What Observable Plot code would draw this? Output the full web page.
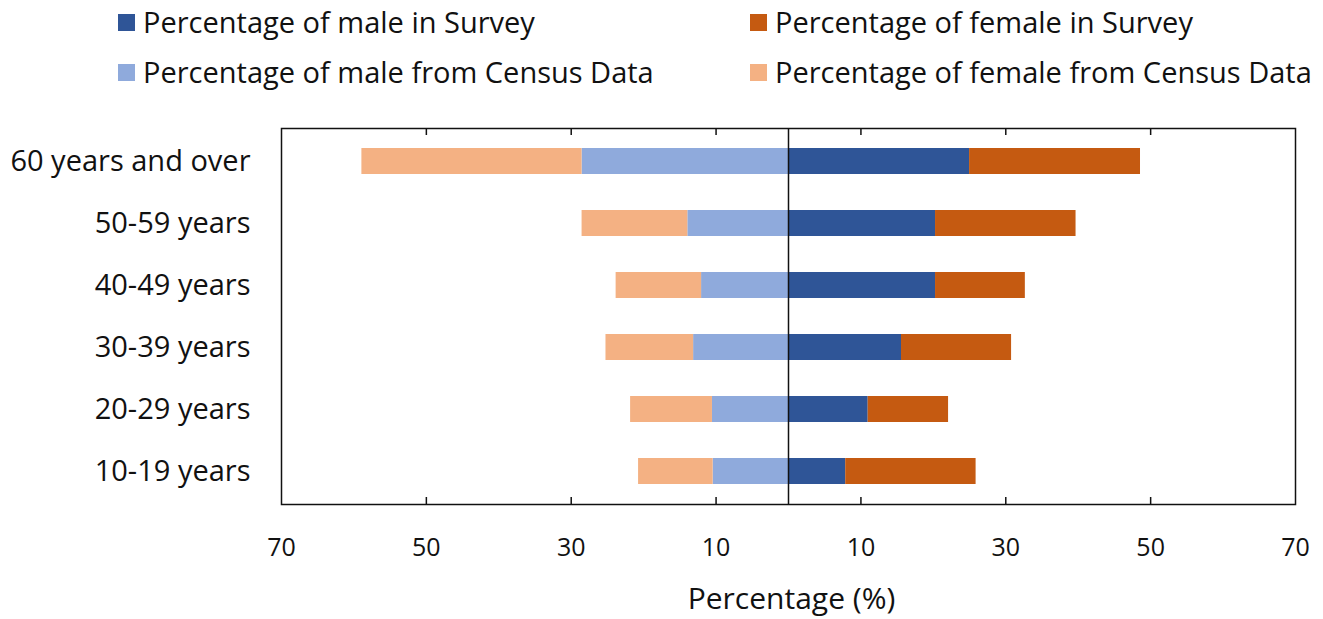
<!DOCTYPE html>
<html>
<head>
<meta charset="utf-8">
<script src="https://cdn.jsdelivr.net/npm/d3@7"></script>
<script src="https://cdn.jsdelivr.net/npm/@observablehq/plot@0.6"></script>
<style>
  body { margin: 0; background: #fff; font-family: "Open Sans", sans-serif; }
  #wrap { position: relative; width: 1323px; height: 619px; }
  #legend { position: relative; width: 1323px; height: 100px; }
  .item { position: absolute; display: flex; align-items: center; font-size: 29px; color: #111; white-space: nowrap; line-height: 36px; }
  .sw { width: 17px; height: 17px; margin-right: 8px; }
</style>
</head>
<body>
<div id="wrap">
  <div id="legend"></div>
  <div id="chart"></div>
</div>
<script>
const ageGroups = ["60 years and over", "50-59 years", "40-49 years", "30-39 years", "20-29 years", "10-19 years"];
const maleSurvey   = [25.0, 20.3, 20.3, 15.6, 11.0, 7.9];
const femaleSurvey = [23.6, 19.4, 12.4, 15.2, 11.1, 18.0];
const maleCensus   = [28.5, 13.9, 12.0, 13.1, 10.5, 10.4];
const femaleCensus = [30.4, 14.6, 11.8, 12.1, 11.3, 10.3];
const seriesNames = [
  "Percentage of male in Survey",
  "Percentage of female in Survey",
  "Percentage of male from Census Data",
  "Percentage of female from Census Data"
];
const seriesColors = ["#2F5597", "#C55A11", "#8FAADC", "#F4B183"];
const xTicks = [-70, -50, -30, -10, 10, 30, 50, 70];

// Build table: census values go to the left (negative)
const rows = [];
ageGroups.forEach((g, i) => {
  rows.push({group: g, series: seriesNames[0], value: maleSurvey[i]});
  rows.push({group: g, series: seriesNames[1], value: femaleSurvey[i]});
  rows.push({group: g, series: seriesNames[2], value: -maleCensus[i]});
  rows.push({group: g, series: seriesNames[3], value: -femaleCensus[i]});
});

// Legend (HTML, above the SVG)
const legend = document.getElementById("legend");
const legendPos = [
  {x: 118, y: 22}, {x: 750, y: 22},
  {x: 118, y: 72}, {x: 750, y: 72}
];
seriesNames.forEach((name, i) => {
  const it = document.createElement("div");
  it.className = "item";
  it.style.left = legendPos[i].x + "px";
  it.style.top = (legendPos[i].y - 18) + "px";
  it.innerHTML = `<span class="sw" style="background:${seriesColors[i]}"></span><span>${name}</span>`;
  legend.appendChild(it);
});

const frameH = 376;
const chart = Plot.plot({
  width: 1323,
  height: 519,
  marginTop: 28,
  marginBottom: 115,
  marginLeft: 281,
  marginRight: 28,
  style: {fontFamily: "Open Sans, sans-serif", color: "#111", background: "white"},
  x: {domain: [-70, 70]},
  y: {domain: ageGroups, paddingInner: 0.58, paddingOuter: 0.29},
  color: {domain: seriesNames, range: seriesColors},
  marks: [
    Plot.barX(rows, Plot.stackX({x: "value", y: "group", fill: "series", order: seriesNames})),
    Plot.ruleX([0], {stroke: "#111", strokeWidth: 1.5}),
    Plot.ruleX(xTicks.slice(1, -1), {x: d => d, insetTop: frameH - 7, stroke: "#111", strokeWidth: 1.5}),
    Plot.ruleX(xTicks.slice(1, -1), {x: d => d, insetBottom: frameH - 7, stroke: "#111", strokeWidth: 1.5}),
    Plot.frame({stroke: "#111", strokeWidth: 1.5}),
    Plot.axisX({ticks: xTicks, tickFormat: d => Math.abs(d), tickSize: 0, tickPadding: 34, fontSize: 25, label: null}),
    Plot.axisY({tickSize: 0, tickPadding: 31, fontSize: 29, label: null}),
    Plot.text(["Percentage (%)"], {frameAnchor: "bottom", dy: 104, dx: 3, fontSize: 30, fill: "#111"})
  ]
});
document.getElementById("chart").appendChild(chart);
</script>
</body>
</html>
